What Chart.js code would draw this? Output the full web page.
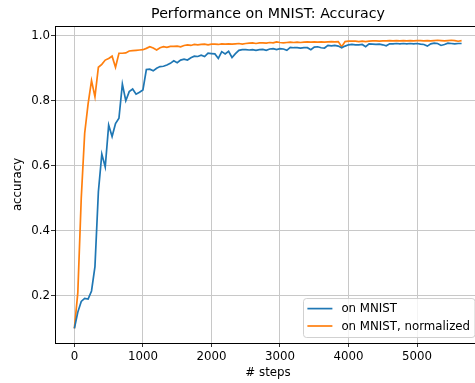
<!DOCTYPE html>
<html>
<head>
<meta charset="utf-8">
<script src="https://cdn.jsdelivr.net/npm/chart.js@4/dist/chart.umd.min.js"></script>
<style>
  html, body { margin: 0; padding: 0; overflow: hidden; background: #fff; }
  canvas { display: block; }
</style>
</head>
<body>
<canvas id="acc-chart" width="485" height="383"></canvas>
<script>
// training steps (logged every 50 steps)
const steps = [
  0, 50, 100, 150, 200, 250, 300, 350, 400, 450,
  500, 550, 600, 650, 700, 750, 800, 850, 900, 950,
  1000, 1050, 1100, 1150, 1200, 1250, 1300, 1350, 1400, 1450,
  1500, 1550, 1600, 1650, 1700, 1750, 1800, 1850, 1900, 1950,
  2000, 2050, 2100, 2150, 2200, 2250, 2300, 2350, 2400, 2450,
  2500, 2550, 2600, 2650, 2700, 2750, 2800, 2850, 2900, 2950,
  3000, 3050, 3100, 3150, 3200, 3250, 3300, 3350, 3400, 3450,
  3500, 3550, 3600, 3650, 3700, 3750, 3800, 3850, 3900, 3950,
  4000, 4050, 4100, 4150, 4200, 4250, 4300, 4350, 4400, 4450,
  4500, 4550, 4600, 4650, 4700, 4750, 4800, 4850, 4900, 4950,
  5000, 5050, 5100, 5150, 5200, 5250, 5300, 5350, 5400, 5450,
  5500, 5550, 5600, 5650
];

// accuracy on MNIST
const accMnist = [
  0.100, 0.150, 0.183, 0.192, 0.190, 0.215, 0.290, 0.520, 0.636, 0.596,
  0.725, 0.690, 0.730, 0.746, 0.851, 0.800, 0.828, 0.836, 0.820, 0.826,
  0.833, 0.896, 0.897, 0.892, 0.900, 0.905, 0.906, 0.910, 0.915, 0.923,
  0.917, 0.925, 0.928, 0.925, 0.932, 0.937, 0.936, 0.940, 0.936, 0.946,
  0.945, 0.944, 0.930, 0.951, 0.944, 0.952, 0.933, 0.945, 0.955, 0.957,
  0.957, 0.956, 0.957, 0.955, 0.957, 0.958, 0.955, 0.959, 0.960, 0.957,
  0.960, 0.959, 0.955, 0.964, 0.963, 0.963, 0.962, 0.963, 0.963, 0.957,
  0.965, 0.966, 0.963, 0.962, 0.970, 0.969, 0.970, 0.968, 0.963, 0.968,
  0.972, 0.973, 0.972, 0.972, 0.973, 0.966, 0.975, 0.974, 0.973, 0.974,
  0.972, 0.969, 0.975, 0.975, 0.976, 0.975, 0.976, 0.975, 0.976, 0.975,
  0.976, 0.974, 0.973, 0.968, 0.975, 0.977, 0.976, 0.970, 0.973, 0.977,
  0.976, 0.975, 0.976, 0.976
];

// accuracy on MNIST, normalized
const accNormalized = [
  0.100, 0.210, 0.500, 0.700, 0.790, 0.862, 0.812, 0.903, 0.912, 0.925,
  0.930, 0.937, 0.903, 0.946, 0.946, 0.947, 0.953, 0.954, 0.955, 0.956,
  0.957, 0.961, 0.966, 0.962, 0.956, 0.963, 0.966, 0.964, 0.967, 0.967,
  0.968, 0.966, 0.970, 0.972, 0.970, 0.973, 0.972, 0.973, 0.974, 0.972,
  0.974, 0.974, 0.973, 0.975, 0.974, 0.975, 0.974, 0.975, 0.976, 0.974,
  0.976, 0.977, 0.978, 0.976, 0.978, 0.978, 0.977, 0.979, 0.978, 0.981,
  0.979, 0.978, 0.979, 0.980, 0.979, 0.980, 0.979, 0.980, 0.981, 0.980,
  0.981, 0.980, 0.981, 0.980, 0.981, 0.982, 0.981, 0.982, 0.966, 0.982,
  0.983, 0.983, 0.983, 0.982, 0.983, 0.982, 0.983, 0.984, 0.984, 0.983,
  0.984, 0.984, 0.985, 0.984, 0.985, 0.984, 0.985, 0.984, 0.985, 0.984,
  0.985, 0.985, 0.984, 0.985, 0.984, 0.985, 0.986, 0.985, 0.984, 0.985,
  0.986, 0.985, 0.983, 0.985
];

const seriesLabels = ["on MNIST", "on MNIST, normalized"];
const xTicks = [0, 1000, 2000, 3000, 4000, 5000];
const yTicks = [0.2, 0.4, 0.6, 0.8, 1.0];

const FONT = "'DejaVu Sans', 'Liberation Sans', sans-serif";
const TXT = 11.8;

// top + right spine like matplotlib
const framePlugin = {
    id: "frame",
    afterDraw(chart) {
        let a = chart.chartArea, ctx = chart.ctx;
        ctx.save();
        ctx.strokeStyle = "#000";
        ctx.lineWidth = 1;
        ctx.beginPath();
        ctx.moveTo(a.left, Math.round(a.top) + 0.5);
        ctx.lineTo(Math.round(a.right) + 0.5, Math.round(a.top) + 0.5);
        ctx.lineTo(Math.round(a.right) + 0.5, a.bottom);
        ctx.stroke();
        ctx.restore();
    }
};

// legend box in the lower right corner of the axes
const legendBoxPlugin = {
    id: "legendBox",
    afterDraw(chart) {
        let a = chart.chartArea, ctx = chart.ctx;
        let sets = chart.data.datasets;
        ctx.save();
        ctx.font = TXT + "px " + FONT;
        let textW = Math.max(...sets.map(d => ctx.measureText(d.label).width));
        let pad = 4.4, handle = 25, gap = 9, rowH = 17.4;
        let w = pad + handle + gap + textW + pad;
        let h = 10.6 + rowH * (sets.length - 1) + 11;
        let right = a.right - 7, bottom = a.bottom - 6;
        let left = Math.round(right - w), top = Math.round(bottom - h);

        ctx.fillStyle = "rgba(255,255,255,0.8)";
        ctx.strokeStyle = "rgba(204,204,204,0.9)";
        ctx.lineWidth = 1;
        ctx.beginPath();
        if (ctx.roundRect) ctx.roundRect(left + 0.5, top + 0.5, w, h, 3);
        else ctx.rect(left + 0.5, top + 0.5, w, h);
        ctx.fill();
        ctx.stroke();

        sets.forEach((d, i) => {
            let y = top + 10.6 + i * rowH;
            ctx.strokeStyle = d.borderColor;
            ctx.lineWidth = 1.7;
            ctx.beginPath();
            ctx.moveTo(left + pad, y);
            ctx.lineTo(left + pad + handle, y);
            ctx.stroke();
            ctx.fillStyle = "#000";
            ctx.textBaseline = "middle";
            ctx.textAlign = "left";
            ctx.fillText(d.label, left + pad + handle + gap, y + 0.5);
        });
        ctx.restore();
    }
};

let ctx = document.getElementById("acc-chart").getContext("2d");

new Chart(ctx, {
    type: "line",
    data: {
        datasets: [
            {
                label: seriesLabels[0],
                data: steps.map((s, i) => ({ x: s, y: accMnist[i] })),
                borderColor: "#1f77b4",
                borderWidth: 1.7,
                pointRadius: 0,
                tension: 0,
                fill: false
            },
            {
                label: seriesLabels[1],
                data: steps.map((s, i) => ({ x: s, y: accNormalized[i] })),
                borderColor: "#ff7f0e",
                borderWidth: 1.7,
                pointRadius: 0,
                tension: 0,
                fill: false
            }
        ]
    },
    options: {
        responsive: false,
        animation: false,
        events: [],
        layout: { padding: { left: 0, right: 4, top: 0, bottom: 0 } },
        plugins: {
            legend: { display: false },
            tooltip: { enabled: false },
            title: {
                display: true,
                text: "Performance on MNIST: Accuracy",
                fullSize: false,
                color: "#000",
                font: { family: FONT, size: 14.2, weight: "normal", lineHeight: 1.2 },
                padding: { top: 6.3, bottom: 2.66 }
            }
        },
        scales: {
            x: {
                type: "linear",
                min: -283,
                max: 5933,
                afterBuildTicks: s => { s.ticks = xTicks.map(v => ({ value: v })); },
                afterFit: s => { s.height = 40; },
                ticks: {
                    color: "#000",
                    font: { family: FONT, size: TXT },
                    padding: 3,
                    maxRotation: 0,
                    callback: v => String(v)
                },
                grid: { color: "#c8c8c8", lineWidth: 1, tickColor: "#333", tickLength: 4 },
                border: { color: "#000", width: 1 },
                title: {
                    display: true,
                    text: "# steps",
                    color: "#000",
                    font: { family: FONT, size: TXT },
                    padding: { top: 0, bottom: 3.4 }
                }
            },
            y: {
                type: "linear",
                min: 0.055,
                max: 1.0298,
                afterBuildTicks: s => { s.ticks = yTicks.map(v => ({ value: v })); },
                afterFit: s => { s.width = 55; },
                ticks: {
                    color: "#000",
                    font: { family: FONT, size: TXT },
                    padding: 1,
                    callback: v => v.toFixed(1)
                },
                grid: { color: "#c8c8c8", lineWidth: 1, tickColor: "#333", tickLength: 4 },
                border: { color: "#000", width: 1 },
                title: {
                    display: true,
                    text: "accuracy",
                    color: "#000",
                    font: { family: FONT, size: TXT },
                    padding: { top: 11, bottom: 0 }
                }
            }
        }
    },
    plugins: [framePlugin, legendBoxPlugin]
});
</script>
</body>
</html>
